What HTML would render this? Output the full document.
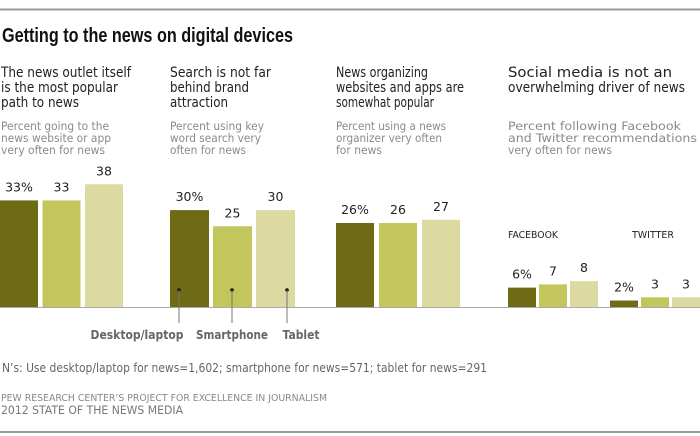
<!DOCTYPE html>
<html><head><meta charset="utf-8"><style>
body{margin:0;width:700px;height:436px;overflow:hidden;background:#fff;font-family:"DejaVu Sans","Liberation Sans",sans-serif}
svg{display:block}
</style></head><body>
<svg id="c" width="700" height="436" xmlns="http://www.w3.org/2000/svg">
<line x1="0" y1="9.5" x2="700" y2="9.5" stroke="#999" stroke-width="2"/>
<text x="2" y="42" font-family="Liberation Sans, sans-serif" font-weight="bold" font-size="20" fill="#111" textLength="291" lengthAdjust="spacingAndGlyphs">Getting to the news on digital devices</text>
<g font-size="14" fill="#222" lengthAdjust="spacingAndGlyphs">
<text x="1" y="77" textLength="130" lengthAdjust="spacingAndGlyphs">The news outlet itself</text><text x="1" y="92" textLength="117" lengthAdjust="spacingAndGlyphs">is the most popular</text><text x="1" y="107" textLength="78" lengthAdjust="spacingAndGlyphs">path to news</text>
<text x="170" y="77" textLength="101" lengthAdjust="spacingAndGlyphs">Search is not far</text><text x="170" y="92" textLength="79" lengthAdjust="spacingAndGlyphs">behind brand</text><text x="170" y="107" textLength="58" lengthAdjust="spacingAndGlyphs">attraction</text>
<text x="336" y="77" textLength="92" lengthAdjust="spacingAndGlyphs">News organizing</text><text x="336" y="92" textLength="128" lengthAdjust="spacingAndGlyphs">websites and apps are</text><text x="336" y="107" textLength="98" lengthAdjust="spacingAndGlyphs">somewhat popular</text>
<text x="508" y="77" textLength="164" lengthAdjust="spacingAndGlyphs">Social media is not an</text><text x="508" y="92" textLength="177" lengthAdjust="spacingAndGlyphs">overwhelming driver of news</text>
</g>
<g font-size="11.5" fill="#8a8a8a">
<text x="1" y="130" textLength="108" lengthAdjust="spacingAndGlyphs">Percent going to the</text><text x="1" y="142" textLength="110" lengthAdjust="spacingAndGlyphs">news website or app</text><text x="1" y="154" textLength="104" lengthAdjust="spacingAndGlyphs">very often for news</text>
<text x="170" y="130" textLength="94" lengthAdjust="spacingAndGlyphs">Percent using key</text><text x="170" y="142" textLength="91" lengthAdjust="spacingAndGlyphs">word search very</text><text x="170" y="154" textLength="76" lengthAdjust="spacingAndGlyphs">often for news</text>
<text x="336" y="130" textLength="110" lengthAdjust="spacingAndGlyphs">Percent using a news</text><text x="336" y="142" textLength="106" lengthAdjust="spacingAndGlyphs">organizer very often</text><text x="336" y="154" textLength="46" lengthAdjust="spacingAndGlyphs">for news</text>
<text x="508" y="130" textLength="173" lengthAdjust="spacingAndGlyphs">Percent following Facebook</text><text x="508" y="142" textLength="189" lengthAdjust="spacingAndGlyphs">and Twitter recommendations</text><text x="508" y="154" textLength="104" lengthAdjust="spacingAndGlyphs">very often for news</text>
</g>
<text x="508" y="238" font-size="10" fill="#222" textLength="50" lengthAdjust="spacingAndGlyphs">FACEBOOK</text>
<text x="632" y="238" font-size="10" fill="#222" textLength="42" lengthAdjust="spacingAndGlyphs">TWITTER</text>
<g id="bars"></g>
<line x1="0" y1="307.5" x2="700" y2="307.5" stroke="#aaa" stroke-width="1"/>
<g id="legend"></g>
<text x="2" y="372" font-size="12" fill="#666" textLength="485" lengthAdjust="spacingAndGlyphs">N’s: Use desktop/laptop for news=1,602; smartphone for news=571; tablet for news=291</text>
<text x="1" y="401" font-size="9.5" fill="#888" textLength="326" lengthAdjust="spacingAndGlyphs">PEW RESEARCH CENTER’S PROJECT FOR EXCELLENCE IN JOURNALISM</text>
<text x="1" y="414" font-size="11.5" fill="#777" textLength="182" lengthAdjust="spacingAndGlyphs">2012 STATE OF THE NEWS MEDIA</text>
<line x1="0" y1="432" x2="700" y2="432" stroke="#999" stroke-width="2"/>
</svg>
<script>
const groups = ["news-outlet","search","news-organizer","facebook","twitter"];
const desktop = [33,30,26,6,2];
const smartphone = [33,25,26,7,3];
const tablet = [38,30,27,8,3];
const seriesNames = ["desktop","smartphone","tablet"];
const legendLabels = ["Desktop/laptop","Smartphone","Tablet"];
const NS="http://www.w3.org/2000/svg";
const groupX=[0,170,336,508,610], barW=[38,39,38,28,28], step=[42.5,43,43,31,31];
const colors=["#6f6a14","#c3c65a","#dcdaa0"];
const base=307, k=3.23;
const y=v=>base-v*k;
const series=[desktop,smartphone,tablet];
const bars=document.getElementById('bars');
groups.forEach((g,gi)=>{
  series.forEach((s,si)=>{
    const x=groupX[gi]+si*step[gi], v=s[gi];
    const r=document.createElementNS(NS,'rect');
    r.setAttribute('x',x);r.setAttribute('y',y(v));r.setAttribute('width',barW[gi]);r.setAttribute('height',base-y(v));
    r.setAttribute('fill',colors[si]);
    
    
    bars.appendChild(r);
    const t=document.createElementNS(NS,'text');
    t.setAttribute('x',x+barW[gi]/2);t.setAttribute('y',y(v)-9);t.setAttribute('text-anchor','middle');
    t.setAttribute('font-size','12.5');t.setAttribute('fill','#222');
    t.textContent=v+(si===0?'%':'');
    
    
    bars.appendChild(t);
  });
});
const lg=document.getElementById('legend');
const dotX=[179,232,287], labelX=[137,232,301], labelW=[93,72,37];
legendLabels.forEach((l,si)=>{
  const cx=dotX[si];
  const d=document.createElementNS(NS,'circle');
  d.setAttribute('cx',cx);d.setAttribute('cy',290);d.setAttribute('r',1.8);d.setAttribute('fill','#111');
  
  
  lg.appendChild(d);
  const ln=document.createElementNS(NS,'line');
  ln.setAttribute('x1',cx);ln.setAttribute('x2',cx);ln.setAttribute('y1',290);ln.setAttribute('y2',323);
  ln.setAttribute('stroke','#777');
  
  
  lg.appendChild(ln);
  const t=document.createElementNS(NS,'text');
  t.setAttribute('x',labelX[si]-labelW[si]/2);t.setAttribute('y',339);
  t.setAttribute('textLength',labelW[si]);t.setAttribute('lengthAdjust','spacingAndGlyphs');
  t.setAttribute('font-size','12.5');t.setAttribute('font-weight','bold');t.setAttribute('fill','#666');
  t.textContent=l;
  
  
  lg.appendChild(t);
});
</script>
</body></html>
